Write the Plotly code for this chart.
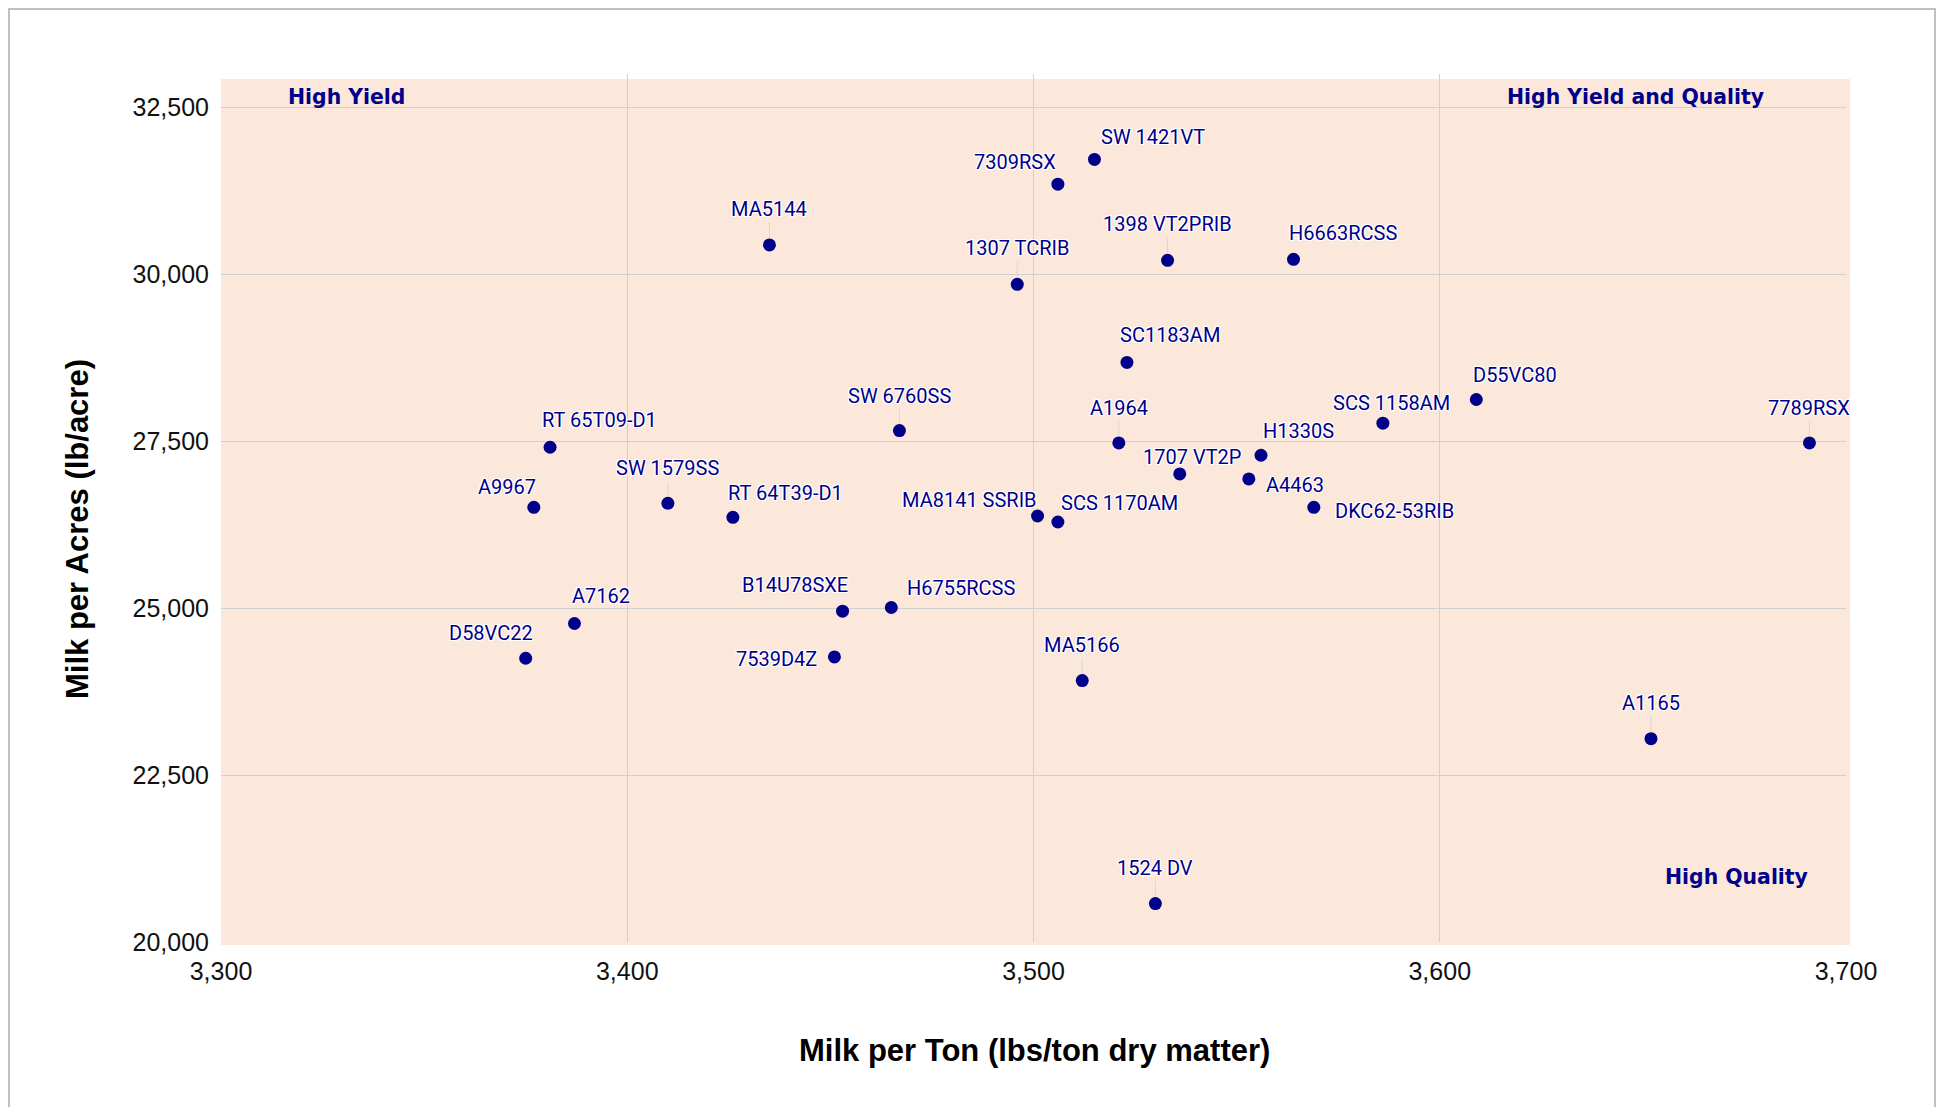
import plotly.graph_objects as go

# ---------------- data ----------------
varieties = ["SW 1421VT", "7309RSX", "MA5144", "1307 TCRIB", "1398 VT2PRIB", "H6663RCSS",
             "SC1183AM", "D55VC80", "SCS 1158AM", "7789RSX", "A1964", "H1330S",
             "1707 VT2P", "A4463", "DKC62-53RIB", "SCS 1170AM", "MA8141 SSRIB", "SW 6760SS",
             "RT 65T09-D1", "A9967", "SW 1579SS", "RT 64T39-D1", "B14U78SXE", "H6755RCSS",
             "A7162", "D58VC22", "7539D4Z", "MA5166", "A1165", "1524 DV"]
milk_per_ton = [3515, 3506, 3435, 3496, 3533, 3564,
                3523, 3609, 3586, 3691, 3521, 3556,
                3536, 3553, 3569, 3506, 3501, 3467,
                3381, 3377, 3410, 3426, 3453, 3465,
                3387, 3375, 3451, 3512, 3652, 3530]
milk_per_acre = [31720, 31350, 30440, 29850, 30210, 30225,
                 28680, 28125, 27770, 27475, 27475, 27290,
                 27010, 26935, 26510, 26290, 26380, 27660,
                 27410, 26510, 26570, 26360, 24955, 25010,
                 24770, 24250, 24270, 23915, 23045, 20575]

x_ticks = [3300, 3400, 3500, 3600, 3700]
y_ticks = [20000, 22500, 25000, 27500, 30000, 32500]
quadrant_labels = ["High Yield", "High Yield and Quality", "High Quality"]
x_title = "Milk per Ton (lbs/ton dry matter)"
y_title = "Milk per Acres (lb/acre)"

# ---------------- label placement (style, pixels) ----------------
# (xanchor, xshift, yshift, connector)
label_place = [
    ("left", 5, 22, False), ("right", 0, 22, False), ("center", 0, 36, True),
    ("center", 0, 36, True), ("center", 0, 36, True), ("left", -7, 26, False),
    ("left", -9, 27, False), ("left", -5, 25, False), ("center", 9, 20, False),
    ("center", 0, 35, True), ("center", 0, 35, True), ("left", 0, 24, False),
    ("center", 12, 17, False), ("left", 15, -6, False), ("left", 19, -4, False),
    ("left", 1, 19, False), ("right", 1, 16, False), ("center", 0, 35, True),
    ("left", -10, 27, False), ("right", 4, 20, False), ("center", 0, 35, True),
    ("left", -7, 24, False), ("right", 7, 26, False), ("left", 14, 19, False),
    ("left", -4, 28, False), ("right", 9, 25, False), ("right", -15, -2, False),
    ("center", 0, 36, True), ("center", 0, 36, True), ("center", 0, 36, True),
]

OFF = 8  # page body margin
W, H = 1928, 1099
L, T = 221 - OFF, 74 - OFF
R = W - (1846 - OFF)
B = H - (942 - OFF)
pw, ph = W - L - R, H - T - B


def px_x(p):
    return (p - OFF - L) / pw


def px_y(p):
    return (H - B - (p - OFF)) / ph


navy = "#00008B"
halo = ("1px 1px 0px #fff, -1px -1px 0px #fff, 1px -1px 0px #fff, -1px 1px 0px #fff, "
        "0px 1px 0px #fff, 0px -1px 0px #fff, 1px 0px 0px #fff, -1px 0px 0px #fff")

fig = go.Figure()
fig.add_trace(go.Scatter(
    x=milk_per_ton, y=milk_per_acre, mode="markers",
    marker=dict(size=13, color=navy),
    text=varieties, hoverinfo="text", showlegend=False,
))

annotations = []
for name, xv, yv, (xa, xs, ys, conn) in zip(varieties, milk_per_ton, milk_per_acre, label_place):
    font = dict(family="Roboto", size=20, color=navy, shadow=halo)
    if conn:
        annotations.append(dict(x=xv, y=yv, xref="x", yref="y", text=name, showarrow=True,
                                ax=xs, ay=-ys, arrowhead=0, arrowwidth=1,
                                arrowcolor="rgba(215,215,215,0.9)", standoff=7, font=font))
    else:
        annotations.append(dict(x=xv, y=yv, xref="x", yref="y", text=name, showarrow=False,
                                xanchor=xa, yanchor="middle", xshift=xs, yshift=ys, font=font))

q_pos = [(346, 97), (1635, 97), (1736, 877)]
for txt, (qx, qy) in zip(quadrant_labels, q_pos):
    annotations.append(dict(x=px_x(qx), y=px_y(qy), xref="paper", yref="paper",
                            text="<b>" + txt + "</b>",
                            showarrow=False, xanchor="center", yanchor="middle",
                            font=dict(family="DejaVu Sans", size=20.4, color=navy)))

tfont = dict(family="Liberation Sans, Arial", size=31, color="#000")
annotations.append(dict(x=px_x(1034), y=px_y(1050), xref="paper", yref="paper",
                        text="<b>" + x_title + "</b>", showarrow=False,
                        xanchor="center", yanchor="middle", font=tfont))
annotations.append(dict(x=px_x(77), y=px_y(529), xref="paper", yref="paper",
                        text="<b>" + y_title + "</b>", showarrow=False, textangle=-90,
                        xanchor="center", yanchor="middle", font=tfont))

shapes = [
    dict(type="rect", xref="paper", yref="paper", layer="below",
         x0=0, x1=px_x(1850), y0=px_y(945), y1=px_y(79),
         fillcolor="#FCE8DA", line=dict(width=0)),
    dict(type="rect", xref="paper", yref="paper", layer="below",
         x0=px_x(OFF + 1), x1=px_x(OFF + W - 1), y0=px_y(1150), y1=px_y(OFF + 1),
         fillcolor="rgba(0,0,0,0)", line=dict(color="#ababab", width=1.5)),
]

tickfont = dict(family="Liberation Sans, Arial", size=25, color="#111")
fig.update_layout(
    width=W, height=H,
    margin=dict(l=L, r=R, t=T, b=B, pad=0),
    paper_bgcolor="white", plot_bgcolor="rgba(0,0,0,0)",
    annotations=annotations, shapes=shapes,
    xaxis=dict(range=[3300, 3700], tickvals=x_ticks,
               ticktext=[f"{v:,}" for v in x_ticks],
               showgrid=True, gridcolor="#d0d0d0", gridwidth=1.2,
               zeroline=False, showline=False, ticks="",
               tickfont=tickfont, ticklabelstandoff=12),
    yaxis=dict(range=[20000, 33000], tickvals=y_ticks,
               ticktext=[f"{v:,}" for v in y_ticks],
               showgrid=True, gridcolor="#d0d0d0", gridwidth=1.2,
               zeroline=False, showline=False, ticks="",
               tickfont=tickfont, ticklabelstandoff=11),
    hovermode="closest",
)

fig.write_html("out.html")
